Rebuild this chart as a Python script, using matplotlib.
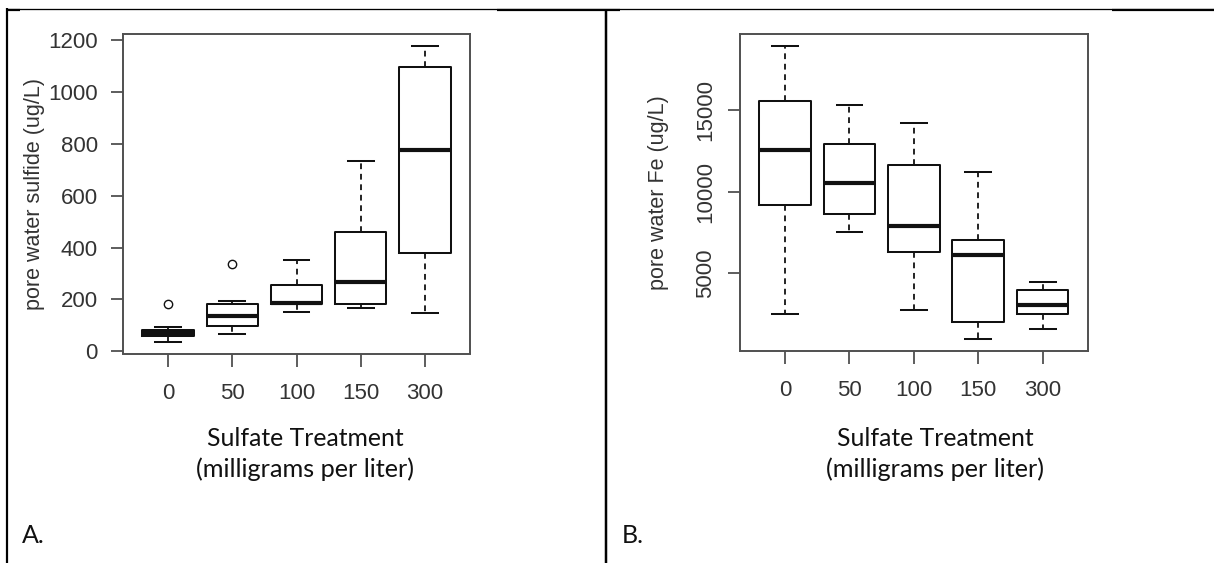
import matplotlib
matplotlib.use("Agg")
import matplotlib.pyplot as plt
from matplotlib.lines import Line2D

# Sulfate treatment levels (mg/L)
treatments = ["0", "50", "100", "150", "300"]

# Panel A: pore water sulfide (ug/L) box statistics
sulfide_whislo = [37, 65, 152, 168, 146]
sulfide_q1 = [60, 99, 182, 182, 381]
sulfide_med = [70, 137, 188, 267, 776]
sulfide_q3 = [81, 183, 254, 462, 1096]
sulfide_whishi = [95, 195, 354, 735, 1178]
sulfide_fliers = [[183], [338], [], [], []]
sulfide_ticks = [0, 200, 400, 600, 800, 1000, 1200]

# Panel B: pore water Fe (ug/L) box statistics
fe_whislo = [2510, 7550, 2750, 960, 1570]
fe_q1 = [9220, 8630, 6320, 2040, 2510]
fe_med = [12590, 10570, 7910, 6140, 3080]
fe_q3 = [15560, 12930, 11670, 7060, 4000]
fe_whishi = [18970, 15360, 14260, 11200, 4470]
fe_fliers = [[], [], [], [], []]
fe_ticks = [5000, 10000, 15000]

W, H = 1214, 563
fig = plt.figure(figsize=(W / 100, H / 100), dpi=100)
fig.patch.set_facecolor("white")

FRAME = "#505050"
INK = "#111111"
TXT = "#333333"
R_FONT = "Liberation Sans"
DOC_FONT = "Lato"
R_SIZE = 16


def px_rect(left, top, right, bottom):
    return [left / W, 1 - bottom / H, (right - left) / W, (bottom - top) / H]


def build_stats(whislo, q1, med, q3, whishi, fliers):
    return [dict(whislo=a, q1=b, med=c, q3=d, whishi=e, fliers=f)
            for a, b, c, d, e, f in zip(whislo, q1, med, q3, whishi, fliers)]


def draw_panel(ax, stats, ticks, ylabel, rotate_ylabels, label_x):
    pos = list(range(1, len(stats) + 1))
    ax.bxp(stats, positions=pos, widths=0.8, capwidths=0.4,
           showfliers=True, patch_artist=False,
           boxprops=dict(color=INK, linewidth=1.45),
           medianprops=dict(color=INK, linewidth=3.0, solid_capstyle="butt"),
           whiskerprops=dict(color=INK, linewidth=1.3, linestyle=(0, (3.2, 2.6))),
           capprops=dict(color=INK, linewidth=1.45),
           flierprops=dict(marker="o", markersize=6, markerfacecolor="none",
                           markeredgecolor=INK, markeredgewidth=1.0))
    lo = min(s["whislo"] for s in stats)
    hi = max([s["whishi"] for s in stats] + [v for s in stats for v in s["fliers"]])
    pad = 0.04 * (hi - lo)
    ax.set_ylim(lo - pad, hi + pad)
    ax.set_xlim(0.3, len(stats) + 0.7)
    ax.set_xticks(pos)
    ax.set_xticklabels(treatments)
    ax.set_yticks(ticks)
    ax.set_yticklabels([str(t) for t in ticks])
    for sp in ax.spines.values():
        sp.set_color(FRAME)
        sp.set_linewidth(1.4)
    ax.tick_params(axis="both", direction="out", length=9, width=1.3,
                   color=FRAME, labelcolor=TXT, labelsize=R_SIZE)
    ax.tick_params(axis="x", pad=12)
    if rotate_ylabels:
        ax.tick_params(axis="y", pad=8, labelrotation=90)
        for lab in ax.get_yticklabels():
            lab.set_va("center")
    else:
        ax.tick_params(axis="y", pad=9)
    for lab in ax.get_xticklabels() + ax.get_yticklabels():
        lab.set_fontfamily(R_FONT)
    ax.set_ylabel(ylabel, fontsize=15.5, color=TXT, fontfamily=R_FONT)
    ax.yaxis.label.set_va("center")
    ax.yaxis.set_label_coords(label_x, 0.5)


axA = fig.add_axes(px_rect(123, 34.3, 470, 353.5))
draw_panel(axA,
           build_stats(sulfide_whislo, sulfide_q1, sulfide_med, sulfide_q3,
                       sulfide_whishi, sulfide_fliers),
           sulfide_ticks, "pore water sulfide (ug/L)", False, -0.256)

axB = fig.add_axes(px_rect(740, 34, 1087.7, 351))
draw_panel(axB,
           build_stats(fe_whislo, fe_q1, fe_med, fe_q3, fe_whishi, fe_fliers),
           fe_ticks, "pore water Fe (ug/L)", True, -0.233)

# Captions beneath each chart
for cx, letter, lx in [(305, "A.", 22), (935, "B.", 622)]:
    fig.text(cx / W, 1 - 446 / H, "Sulfate Treatment", ha="center",
             va="baseline", fontsize=17.8, fontfamily=DOC_FONT, color=INK)
    fig.text(cx / W, 1 - 477 / H, "(milligrams per liter)", ha="center",
             va="baseline", fontsize=18.2, fontfamily=DOC_FONT, color=INK)
    fig.text(lx / W, 1 - 543 / H, letter, ha="left", va="baseline",
             fontsize=18, fontfamily=DOC_FONT, color=INK)


# Table cell borders
def border(x0, y0, x1, y1, lw_px):
    fig.add_artist(Line2D([x0 / W, x1 / W], [1 - y0 / H, 1 - y1 / H],
                          transform=fig.transFigure, color="black",
                          linewidth=lw_px * 0.72, solid_capstyle="butt"))


border(6, 8.5, W, 8.5, 1.3)
border(6, 9.8, 20, 9.8, 2.2)
border(497, 9.8, 620, 9.8, 2.2)
border(1112, 9.8, W, 9.8, 2.2)
border(7, 8, 7, H, 2.2)
border(606, 9, 606, H, 2.5)

fig.savefig("out.png", dpi=100, facecolor="white")
